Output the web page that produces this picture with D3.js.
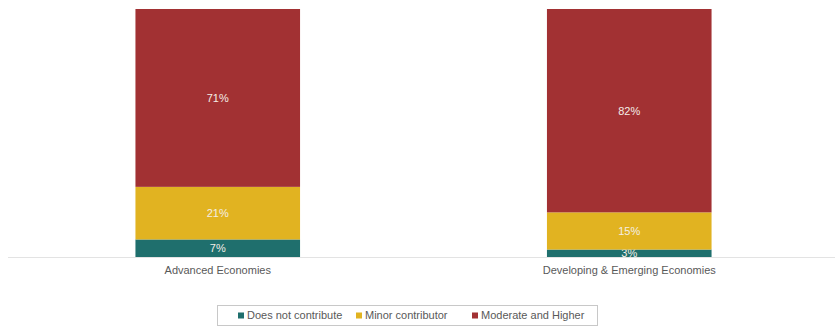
<!DOCTYPE html>
<html>
<head>
<meta charset="utf-8">
<script src="https://cdn.jsdelivr.net/npm/d3@7"></script>
<style>
  html, body { margin: 0; padding: 0; background: #fff; }
  svg { display: block; font-family: "Liberation Sans", Arial, sans-serif; }
</style>
</head>
<body>
<svg id="chart" width="838" height="328"></svg>
<script>
// Share of economies by contribution level
const categories = ["Advanced Economies", "Developing & Emerging Economies"];
const seriesNames = ["Does not contribute", "Minor contributor", "Moderate and Higher"];
const doesNotContribute = [7, 3];
const minorContributor = [21, 15];
const moderateAndHigher = [71, 82];
const seriesColors = ["#1f6f6d", "#e1b321", "#a23133"];

const rows = categories.map((c, i) => ({
  category: c,
  "Does not contribute": doesNotContribute[i],
  "Minor contributor": minorContributor[i],
  "Moderate and Higher": moderateAndHigher[i]
}));

const svg = d3.select("#chart");
const plot = { left: 12, right: 835, top: 9, bottom: 257 };

const x = d3.scaleBand()
  .domain(categories)
  .range([plot.left, plot.right])
  .paddingInner(0.6)
  .paddingOuter(0.3);

const y = d3.scaleLinear().domain([0, 1]).range([plot.bottom, plot.top]);

// 100% stacked columns
const stacked = d3.stack().keys(seriesNames).offset(d3.stackOffsetExpand)(rows);

const layers = svg.append("g").selectAll("g")
  .data(stacked)
  .join("g")
  .attr("fill", (d, i) => seriesColors[i]);

layers.selectAll("rect")
  .data(d => d)
  .join("rect")
  .attr("x", d => x(d.data.category))
  .attr("width", x.bandwidth())
  .attr("y", d => y(d[1]))
  .attr("height", d => y(d[0]) - y(d[1]));

// value labels
layers.each(function(layer) {
  d3.select(this).selectAll("text")
    .data(layer)
    .join("text")
    .attr("x", d => x(d.data.category) + x.bandwidth() / 2)
    .attr("y", d => (y(d[0]) + y(d[1])) / 2)
    .attr("dy", "0.35em")
    .attr("text-anchor", "middle")
    .attr("fill", "#f4eee6")
    .attr("font-size", 11)
    .text(d => d.data[layer.key] + "%");
});

// category axis
const xAxis = svg.append("g")
  .attr("transform", `translate(0,${plot.bottom})`)
  .call(d3.axisBottom(x).tickSize(0).tickPadding(9));
xAxis.select(".domain").attr("stroke", "#e3e3e3").attr("stroke-width", 1.2)
  .attr("d", `M8,0.5H835`);
xAxis.selectAll("text")
  .attr("fill", "#595959")
  .attr("font-size", 11)
  .attr("font-family", "Liberation Sans, Arial, sans-serif");

// legend
const legend = svg.append("g");
legend.append("rect")
  .attr("x", 217.5).attr("y", 305.5)
  .attr("width", 380).attr("height", 20)
  .attr("fill", "#fff")
  .attr("stroke", "#c8c8c8");

const legendX = [238, 356, 472];
const items = legend.selectAll("g.item")
  .data(seriesNames)
  .join("g")
  .attr("class", "item")
  .attr("transform", (d, i) => `translate(${legendX[i]},315.5)`);
items.append("rect")
  .attr("x", 0).attr("y", -3)
  .attr("width", 6).attr("height", 6)
  .attr("fill", (d, i) => seriesColors[i]);
items.append("text")
  .attr("x", 9)
  .attr("dy", "0.35em")
  .attr("fill", "#595959")
  .attr("font-size", 11)
  .text(d => d);
</script>
</body>
</html>
